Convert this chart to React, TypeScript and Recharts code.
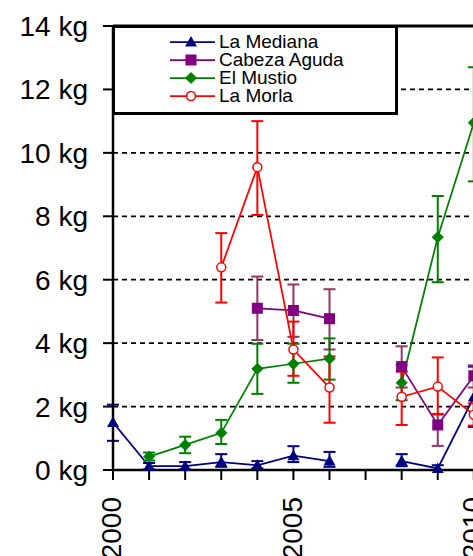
import React from 'react';
import {
  LineChart,
  Line,
  XAxis,
  YAxis,
  CartesianGrid,
  ErrorBar,
  ReferenceLine,
} from 'recharts';

// años (2007 sin muestreo)
const years = [2000, 2001, 2002, 2003, 2004, 2005, 2006, 2007, 2008, 2009, 2010];
const yearTicks = [2000, 2001, 2002, 2003, 2004, 2005, 2006, 2007, 2008, 2009, 2010, 2011, 2012];
const kgTicks = [0, 2, 4, 6, 8, 10, 12, 14];

const medianaValues = [1.5, 0.12, 0.12, 0.25, 0.15, 0.45, 0.28, null, 0.28, 0.05, 2.3];
const medianaLow = [0.92, 0.02, 0.02, 0.1, 0.05, 0.25, 0.1, null, 0.12, 0, 1.36];
const medianaHigh = [2.06, 0.22, 0.25, 0.5, 0.28, 0.75, 0.57, null, 0.5, 0.15, 3.26];

const cabezaValues = [null, null, null, null, 5.1, 5.03, 4.77, null, 3.26, 1.42, 2.97];
const cabezaLow = [null, null, null, null, 4.1, 4.2, 3.8, null, 2.6, 0.76, 2.6];
const cabezaHigh = [null, null, null, null, 6.1, 5.85, 5.7, null, 3.9, 1.77, 3.3];

const mustioValues = [null, 0.42, 0.79, 1.17, 3.19, 3.35, 3.51, null, 2.75, 7.34, 10.95];
const mustioLow = [null, 0.3, 0.53, 0.82, 2.4, 2.75, 2.85, null, 2.2, 5.92, 9.1];
const mustioHigh = [null, 0.55, 1.05, 1.58, 3.98, 3.98, 4.15, null, 3.3, 8.64, 12.7];

const morlaValues = [null, null, null, 6.39, 9.55, 3.8, 2.6, null, 2.31, 2.63, 1.74];
const morlaLow = [null, null, null, 5.28, 8.04, 2.97, 1.49, null, 1.42, 1.75, 1.4];
const morlaHigh = [null, null, null, 7.47, 11.0, 4.68, 3.58, null, 3.1, 3.55, 2.1];

const FONT = '"Liberation Sans", Arial, sans-serif';

const NAVY = '#000080';
const PURPLE = '#800080';
const PURPLE_ERR = '#993366';
const GREEN = '#008000';
const RED = '#ff0000';

// error = [bajo, alto] como distancias desde el valor
function err(v: number | null, lo: number | null, hi: number | null) {
  if (v == null || lo == null || hi == null) return null;
  return [v - lo, hi - v];
}

const data = years.map((year, i) => ({
  year,
  mediana: medianaValues[i],
  medianaErr: err(medianaValues[i], medianaLow[i], medianaHigh[i]),
  cabeza: cabezaValues[i],
  cabezaErr: err(cabezaValues[i], cabezaLow[i], cabezaHigh[i]),
  mustio: mustioValues[i],
  mustioErr: err(mustioValues[i], mustioLow[i], mustioHigh[i]),
  morla: morlaValues[i],
  morlaErr: err(morlaValues[i], morlaLow[i], morlaHigh[i]),
}));

type Shape = 'triangle' | 'square' | 'diamond' | 'circle';

function Marker({ shape, cx, cy, color }: { shape: Shape; cx: number; cy: number; color: string }) {
  switch (shape) {
    case 'triangle':
      return <polygon points={`${cx},${cy - 6} ${cx + 6},${cy + 4.5} ${cx - 6},${cy + 4.5}`} fill={color} />;
    case 'square':
      return <rect x={cx - 5.5} y={cy - 5.5} width={11} height={11} fill={color} />;
    case 'diamond':
      return <polygon points={`${cx},${cy - 5.5} ${cx + 5.5},${cy} ${cx},${cy + 5.5} ${cx - 5.5},${cy}`} fill={color} stroke={color} strokeWidth={1} strokeLinejoin="round" />;
    default:
      return <circle cx={cx} cy={cy} r={4.5} fill="#fff" stroke={color} strokeWidth={1.5} />;
  }
}

const makeDot = (shape: Shape, color: string) => (props: any) => {
  const { cx, cy, value, index } = props;
  if (value == null || cx == null || cy == null) return <g key={`d-${index}`} />;
  return (
    <g key={`d-${index}`}>
      <Marker shape={shape} cx={cx} cy={cy} color={color} />
    </g>
  );
};

function YearTick(props: any) {
  const { x, y, payload } = props;
  if (payload.value % 5 !== 0) return <g />;
  return (
    <text
      x={x}
      y={y}
      transform={`rotate(-90, ${x}, ${y})`}
      textAnchor="end"
      dx={-15}
      dy="0.3em"
      fill="#000"
      fontSize={28}
      fontFamily={FONT}
    >
      {payload.value}
    </text>
  );
}

const legendItems: { name: string; color: string; shape: Shape }[] = [
  { name: 'La Mediana', color: NAVY, shape: 'triangle' },
  { name: 'Cabeza Aguda', color: PURPLE, shape: 'square' },
  { name: 'El Mustio', color: GREEN, shape: 'diamond' },
  { name: 'La Morla', color: RED, shape: 'circle' },
];

export default function App() {
  return (
    <div
      style={{
        position: 'absolute',
        left: 0,
        top: 0,
        width: 473,
        height: 556,
        overflow: 'hidden',
        background: '#fff',
        fontFamily: FONT,
      }}
    >
      <LineChart
        width={556}
        height={556}
        data={data}
        margin={{ top: 26, right: 10, bottom: 0, left: 0 }}
      >
        <CartesianGrid vertical={false} stroke="#000" strokeWidth={1.75} strokeDasharray="5 4" />
        <XAxis
          type="number"
          dataKey="year"
          domain={[2000, 2012]}
          ticks={yearTicks}
          interval={0}
          height={86}
          tickSize={10}
          axisLine={{ stroke: '#000', strokeWidth: 2.5 }}
          tickLine={{ stroke: '#000', strokeWidth: 2 }}
          tick={<YearTick />}
        />
        <YAxis
          type="number"
          domain={[0, 14]}
          ticks={kgTicks}
          width={113}
          tickSize={10}
          tickMargin={15}
          tickFormatter={(v) => `${v} kg`}
          axisLine={{ stroke: '#000', strokeWidth: 2.5 }}
          tickLine={{ stroke: '#000', strokeWidth: 2 }}
          tick={{ fill: '#000', fontSize: 28, fontFamily: FONT }}
        />
        <ReferenceLine y={14} stroke="#000" strokeWidth={3} />

        <Line
          dataKey="mediana"
          stroke={NAVY}
          strokeWidth={1.75}
          dot={makeDot('triangle', NAVY)}
          activeDot={false}
          isAnimationActive={false}
        >
          <ErrorBar dataKey="medianaErr" direction="y" width={6} stroke={NAVY} strokeWidth={2} isAnimationActive={false} />
        </Line>
        <Line
          dataKey="cabeza"
          stroke={PURPLE}
          strokeWidth={1.75}
          dot={makeDot('square', PURPLE)}
          activeDot={false}
          isAnimationActive={false}
        >
          <ErrorBar dataKey="cabezaErr" direction="y" width={6} stroke={PURPLE_ERR} strokeWidth={2} isAnimationActive={false} />
        </Line>
        <Line
          dataKey="mustio"
          stroke={GREEN}
          strokeWidth={1.75}
          dot={makeDot('diamond', GREEN)}
          activeDot={false}
          isAnimationActive={false}
        >
          <ErrorBar dataKey="mustioErr" direction="y" width={6} stroke={GREEN} strokeWidth={2} isAnimationActive={false} />
        </Line>
        <Line
          dataKey="morla"
          stroke={RED}
          strokeWidth={1.75}
          dot={makeDot('circle', RED)}
          activeDot={false}
          isAnimationActive={false}
        >
          <ErrorBar dataKey="morlaErr" direction="y" width={6} stroke={RED} strokeWidth={2} isAnimationActive={false} />
        </Line>
      </LineChart>

      {/* leyenda */}
      <div
        style={{
          position: 'absolute',
          left: 112,
          top: 25,
          width: 286,
          height: 90,
          boxSizing: 'border-box',
          border: '3px solid #000',
          background: '#fff',
        }}
      >
        {legendItems.map((item, i) => (
          <div
            key={item.name}
            style={{
              position: 'absolute',
              left: 0,
              top: 5 + i * 18,
              height: 18,
              width: '100%',
            }}
          >
            <svg width={48} height={18} style={{ position: 'absolute', left: 55, top: 0 }}>
              <line x1={0} y1={9} x2={45} y2={9} stroke={item.color} strokeWidth={1.75} />
              <Marker shape={item.shape} cx={21} cy={9} color={item.color} />
            </svg>
            <span
              style={{
                position: 'absolute',
                left: 104,
                top: 0,
                fontSize: 19,
                lineHeight: '18px',
                color: '#000',
                whiteSpace: 'nowrap',
              }}
            >
              {item.name}
            </span>
          </div>
        ))}
      </div>
    </div>
  );
}
